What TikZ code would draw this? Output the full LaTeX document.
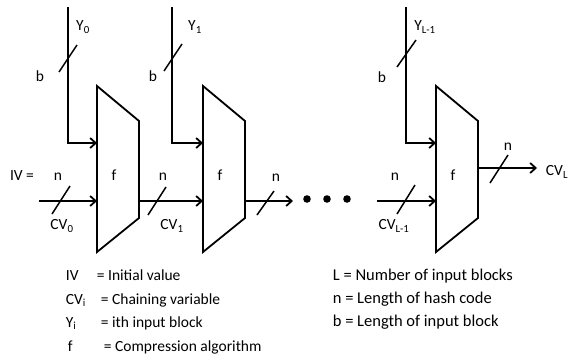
\documentclass[tikz,border=0pt]{standalone}
\usepackage{fontspec}
\setmainfont{Carlito}
\usetikzlibrary{arrows.meta}
\begin{document}
\begin{tikzpicture}[x=1pt,y=-1pt,
  line width=1.8pt,
  blk/.style={draw,line join=miter},
  arr/.style={-{Straight Barb[length=5.5pt,width=10pt,line width=1.8pt]}},
  sl/.style={line width=1.5pt},
  lbl/.style={font=\fontsize{15.5}{18}\selectfont,inner sep=0pt},
  leg/.style={font=\fontsize{15.5}{18}\selectfont,inner sep=0pt,anchor=base west},
  legr/.style={font=\fontsize{16.5}{19}\selectfont,inner sep=0pt,anchor=base west}]
\useasboundingbox (0,0) rectangle (570,362);
% blocks
\foreach \x/\k in {97/1,203/2,436/3}{
  \draw[blk] (\x,86) -- (\x+42,121) -- (\x+42,218) -- (\x,252) -- cycle;
  \node[lbl] (f\k) at (\x+17,175) {f};
  \coordinate (in\k) at (\x,201);
  \coordinate (out\k) at (\x+42,201);
  \coordinate (top\k) at (\x,143);
}
% Y inputs
\coordinate (y1t) at (68,7);   \coordinate (y1c) at (68,143);
\coordinate (y2t) at (172,7);  \coordinate (y2c) at (172,143);
\coordinate (y3t) at (406,7);  \coordinate (y3c) at (406,143);
\draw[arr] (y1t) -- (y1c) -- (top1);
\draw[arr] (y2t) -- (y2c) -- (top2);
\draw[arr] (y3t) -- (y3c) -- (top3);
% slashes on Y lines
\draw[sl] (59,72) -- (77,45);
\draw[sl] (164,71) -- (182,44);
\draw[sl] (397,67) -- (416,40);
\node[lbl] (yl1) at (83,27) {Y\textsubscript{0}};
\node[lbl] (yl2) at (195,27) {Y\textsubscript{1}};
\node[lbl] (yl3) at (425,27) {Y\textsubscript{L-1}};
\node[lbl] (b1) at (40,76) {b};
\node[lbl] (b2) at (153,76) {b};
\node[lbl] (b3) at (382,77) {b};
% chaining line
\coordinate (ivs) at (39,201);
\coordinate (o2e) at (293,201);
\coordinate (cvls) at (377,201);
\coordinate (outs) at (478,168);
\coordinate (oute) at (537,168);
\draw[arr] (ivs) -- (in1);
\draw[arr] (out1) -- (in2);
\draw[arr] (out2) -- (o2e);
\draw[arr] (cvls) -- (in3);
\draw[arr] (outs) -- (oute);
% slashes on chaining line
\draw[sl] (52,214) -- (70,186);
\draw[sl] (148,215) -- (166,187);
\draw[sl] (257,215) -- (274,191);
\draw[sl] (397,214) -- (415,185);
\draw[sl] (490,183) -- (508,155);
% labels
\node[lbl] (iv) at (22,176) {IV =};
\node[lbl] (n1) at (58,177) {n};
\node[lbl] (n2) at (163,177) {n};
\node[lbl] (n3) at (276,178) {n};
\node[lbl] (n4) at (395,177) {n};
\node[lbl] (n5) at (508,147) {n};
\node[lbl] (cv0) at (62,226) {CV\textsubscript{0}};
\node[lbl] (cv1) at (172,226) {CV\textsubscript{1}};
\node[lbl] (cvl1) at (394,226) {CV\textsubscript{L-1}};
\node[lbl] (cvl) at (557,172) {CV\textsubscript{L}};
% dots
\foreach \x/\k in {307/1,327/2,347/3}{
  \fill (\x,199) circle (3.8pt) coordinate (d\k);
}
% legend
\node[leg] (l1a) at (65,280) {IV};
\node[leg] (l1b) at (96,280) {= Initial value};
\node[leg] (l2a) at (65,304) {CV\textsubscript{i}};
\node[leg] (l2b) at (100,304) {= Chaining variable};
\node[leg] (l3a) at (65,327) {Y\textsubscript{i}};
\node[leg] (l3b) at (100,327) {= ith input block};
\node[leg] (l4a) at (67,351) {f};
\node[leg] (l4b) at (103,351) {= Compression algorithm};
\node[legr] (r1) at (332,280) {L = Number of input blocks};
\node[legr] (r2) at (332,303) {n = Length of hash code};
\node[legr] (r3) at (332,326) {b = Length of input block};
\end{tikzpicture}
\end{document}
